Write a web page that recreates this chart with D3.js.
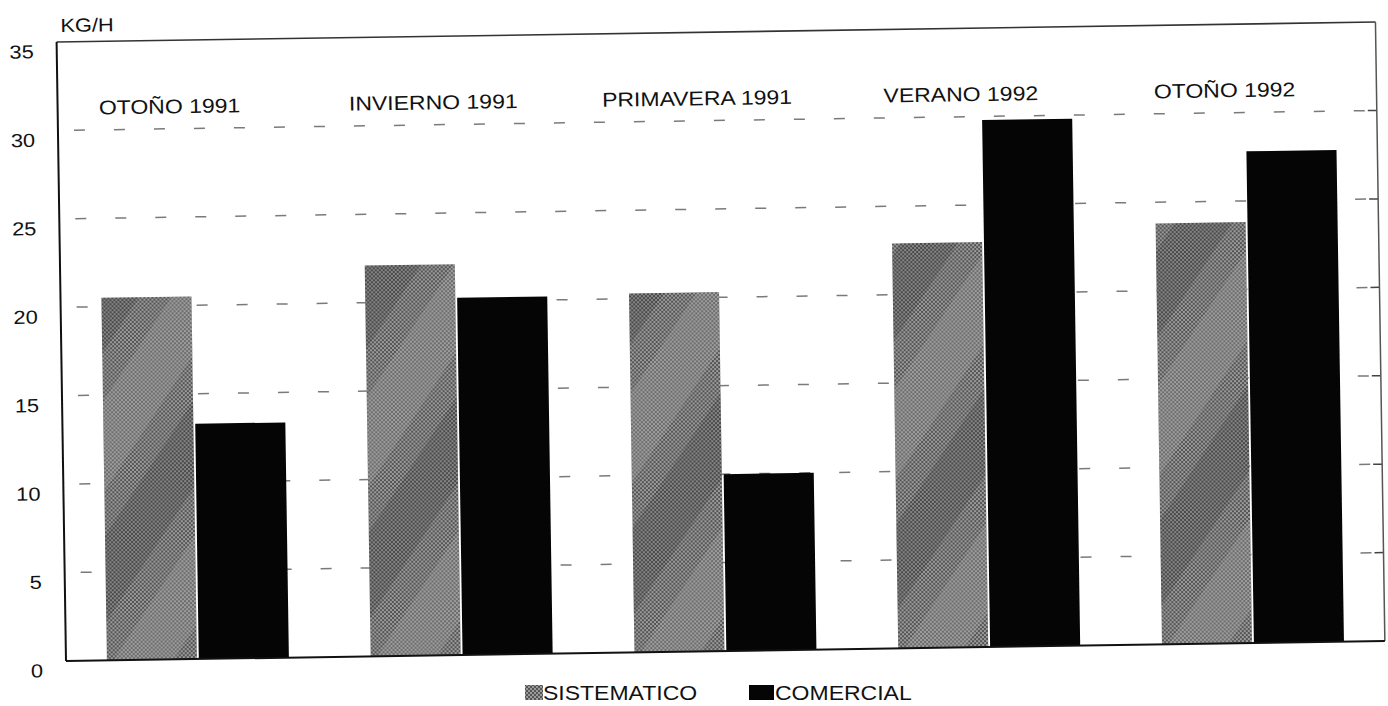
<!DOCTYPE html>
<html>
<head>
<meta charset="utf-8">
<script src="https://cdn.jsdelivr.net/npm/d3@7"></script>
<style>
  html, body { margin: 0; padding: 0; background: #ffffff; }
  svg { display: block; }
  text { font-family: "Liberation Sans", Arial, Helvetica, sans-serif; fill: #111; }
</style>
</head>
<body>
<svg id="chart" width="1388" height="706"></svg>
<script>
// ---- data ----
const categories = ["OTOÑO 1991", "INVIERNO 1991", "PRIMAVERA 1991", "VERANO 1992", "OTOÑO 1992"];
const seriesNames = ["SISTEMATICO", "COMERCIAL"];
const sistematico = [20.5, 22.1, 20.3, 22.9, 23.8];
const comercial = [13.3, 20.2, 10.0, 29.8, 27.8];
const yTickValues = [0, 5, 10, 15, 20, 25, 30, 35];
const gridValues = [5, 10, 15, 20, 25, 30];
const yUnit = "KG/H";

(function () {
// ---- layout ----
const plotLeft = 66, plotRight = 1385, plotTop = 42, plotBottom = 661;
const sx = 1.15; // horizontal stretch of the scanned lettering

const svg = d3.select("#chart");
const defs = svg.append("defs");

// halftone fill for SISTEMATICO
const pat = defs.append("pattern").attr("id", "halftone")
  .attr("width", 4).attr("height", 4).attr("patternUnits", "userSpaceOnUse");
pat.append("rect").attr("width", 4).attr("height", 4).attr("fill", "#9a9a9a");
pat.append("circle").attr("cx", 1).attr("cy", 1).attr("r", 1).attr("fill", "#3c3c3c");
pat.append("circle").attr("cx", 3).attr("cy", 3).attr("r", 1).attr("fill", "#3c3c3c");

// broad diagonal streaks (scan texture)
const streak = defs.append("pattern").attr("id", "streaks")
  .attr("width", 150).attr("height", 150).attr("patternUnits", "userSpaceOnUse")
  .attr("patternTransform", "rotate(-56)");
streak.append("rect").attr("x", 0).attr("y", 0).attr("width", 150).attr("height", 48)
  .attr("fill", "#1a1a1a").attr("opacity", 0.16);
streak.append("rect").attr("x", 0).attr("y", 75).attr("width", 150).attr("height", 50)
  .attr("fill", "#a8a8a8").attr("opacity", 0.3);

const g = svg.append("g").attr("transform", `rotate(-0.87, ${plotLeft}, ${plotBottom})`);

const y = d3.scaleLinear().domain([0, 35]).range([plotBottom, plotTop]);
const x0 = d3.scaleBand().domain(categories).range([plotLeft, plotRight])
  .paddingInner(0.31).paddingOuter(0.155);
const x1 = d3.scaleBand().domain(seriesNames).range([0, x0.bandwidth()]).paddingInner(0.02);

function stretchedText(sel, x, yy, anchor) {
  return sel.attr("transform", `translate(${x},${yy}) scale(${sx},1)`)
    .attr("text-anchor", anchor).attr("dominant-baseline", "central");
}

// gridlines
g.append("g").selectAll("line").data(gridValues).join("line")
  .attr("x1", plotLeft + 16).attr("x2", plotRight - 4)
  .attr("y1", d => y(d)).attr("y2", d => y(d))
  .attr("stroke", "#7a7a7a").attr("stroke-width", 1.5)
  .attr("stroke-dasharray", "11,29");

// right-side ticks
g.append("g").selectAll("line").data(gridValues).join("line")
  .attr("x1", plotRight - 9).attr("x2", plotRight)
  .attr("y1", d => y(d)).attr("y2", d => y(d))
  .attr("stroke", "#444").attr("stroke-width", 1.5);

// bars
const values = { "SISTEMATICO": sistematico, "COMERCIAL": comercial };
const groups = g.append("g").selectAll("g").data(categories).join("g")
  .attr("transform", d => `translate(${x0(d)},0)`);

groups.each(function (cat, i) {
  const gg = d3.select(this);
  seriesNames.forEach(s => {
    const v = values[s][i];
    gg.append("rect")
      .attr("x", x1(s)).attr("width", x1.bandwidth())
      .attr("y", y(v)).attr("height", y(0) - y(v))
      .attr("fill", s === "SISTEMATICO" ? "url(#halftone)" : "#050505");
    if (s === "SISTEMATICO") {
      gg.append("rect")
        .attr("x", x1(s)).attr("width", x1.bandwidth())
        .attr("y", y(v)).attr("height", y(0) - y(v))
        .attr("fill", "url(#streaks)");
    }
  });
});

// frame
g.append("line").attr("x1", plotLeft).attr("x2", plotRight).attr("y1", y(35)).attr("y2", y(35))
  .attr("stroke", "#333").attr("stroke-width", 1.6);
g.append("line").attr("x1", plotRight).attr("x2", plotRight).attr("y1", y(35)).attr("y2", y(0))
  .attr("stroke", "#555").attr("stroke-width", 1.5);
g.append("line").attr("x1", plotLeft).attr("x2", plotRight).attr("y1", y(0)).attr("y2", y(0))
  .attr("stroke", "#111").attr("stroke-width", 2);
g.append("line").attr("x1", plotLeft).attr("x2", plotLeft).attr("y1", y(35)).attr("y2", y(0))
  .attr("stroke", "#111").attr("stroke-width", 2);

// y tick labels
g.append("g").selectAll("text").data(yTickValues).join("text")
  .each(function (d) { stretchedText(d3.select(this), 43, y(d) + 9, "end"); })
  .attr("font-size", 19)
  .text(d => d);

// unit label
stretchedText(g.append("text"), 70, 25, "start").attr("font-size", 19).text(yUnit);

// category labels
g.append("g").selectAll("text").data(categories).join("text")
  .each(function (d) { stretchedText(d3.select(this), x0(d) + x0.bandwidth() / 2 - 20, 108, "middle"); })
  .attr("font-size", 20)
  .text(d => d);

// legend
const legend = svg.append("g");
const legendItems = [
  { name: seriesNames[0], sx: 525, sw: 18, tx: 543, fill: "url(#halftone)" },
  { name: seriesNames[1], sx: 749, sw: 25, tx: 775, fill: "#050505" }
];
legendItems.forEach(it => {
  legend.append("rect").attr("x", it.sx).attr("y", 685).attr("width", it.sw).attr("height", 15)
    .attr("fill", it.fill);
  stretchedText(legend.append("text"), it.tx, 693, "start").attr("font-size", 20).text(it.name);
});
})();
</script>
</body>
</html>
